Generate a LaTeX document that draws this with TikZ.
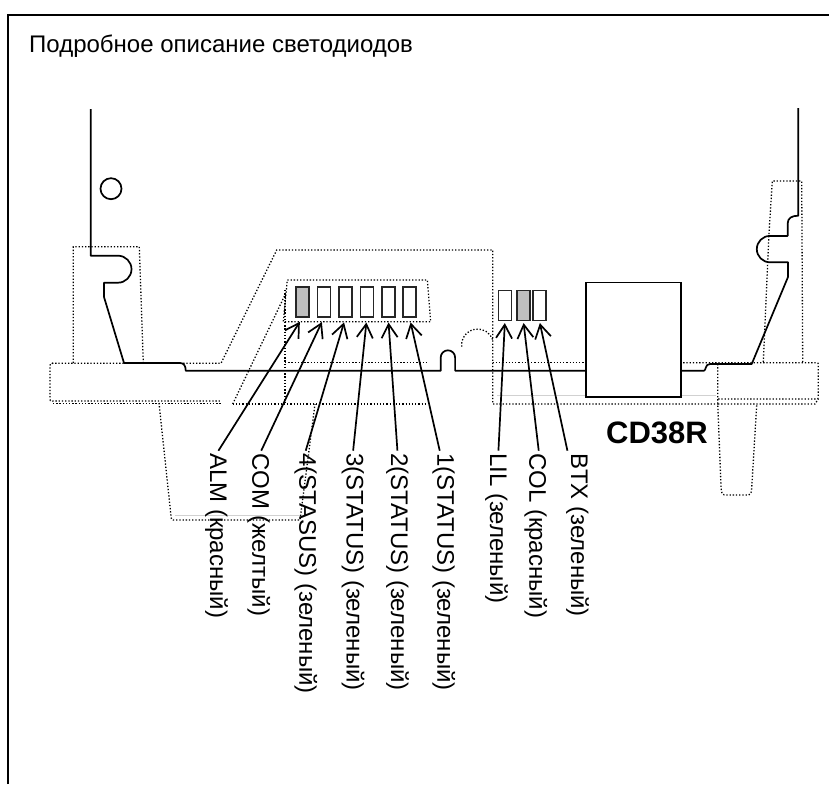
\documentclass[tikz,border=0pt]{standalone}
\usepackage{fontspec}
\setmainfont{Liberation Sans}
\usetikzlibrary{arrows.meta}

\begin{document}
\begin{tikzpicture}[
  x=1pt, y=-1pt,
  outline/.style={draw=black, line width=1.7pt, line join=round},
  hidden/.style={draw=black, line width=1.3pt, dash pattern=on 1.3pt off 1.9pt},
  faint/.style={draw=black!18, line width=1.2pt},
  led/.style={draw=black!85, line width=1.7pt, fill=white, minimum width=13pt,
              inner sep=0pt, minimum height=30pt},
  ledlit/.style={led, fill=black!25},
  lbl/.style={rotate=-90, anchor=base west, inner sep=0pt, outer sep=2.4pt, font=\fontsize{24}{26}\selectfont},
  arr/.style={-{Straight Barb[length=13.5pt,width=16pt]}, line width=1.7pt, shorten >=5pt}
]
\useasboundingbox (0,0) rectangle (829,784);

% ---- frame and heading
\draw[line width=1.7pt] (8,784) -- (8,15) -- (829,15);
\node[anchor=base west, inner sep=0pt, font=\fontsize{24}{26}\selectfont] (title) at (29,52.7) {Подробное описание светодиодов};

% ---- hidden edges behind the panel
\draw[hidden] (73.3,363) -- (73.3,246.7) -- (139.3,246.7) -- (143.3,363);
\draw[hidden] (52,363.3) -- (221,363.3) -- (276.7,250) -- (492.7,250) -- (492.7,404) -- (718,404);
\draw[hidden] (53,363.3) .. controls (50,363.3) .. (50,366) -- (50,398) .. controls (50,401) .. (53,401) -- (221,401);
\draw[hidden] (53,403.3) -- (221,403.3);
\draw[hidden] (232.7,404) -- (285,295);
\draw[hidden] (285,290) -- (285,404);
\draw[hidden] (232.7,404) -- (426.7,404);
\draw[hidden] (285,362.7) -- (426.7,362.7);
\draw[hidden] (287.3,280) -- (427.3,280) -- (430.7,321.7) -- (283.3,321.7) -- cycle;
\draw[hidden] (159,403) -- (171,516) .. controls (171.5,520) .. (175,520) -- (300,520) -- (315,404);
\draw[hidden] (461.7,346.7) arc[start angle=174, end angle=340, radius=16];
\draw[hidden] (492.7,362.7) -- (585,362.7);
\draw[hidden] (680,362.7) -- (815,362.7) .. controls (818.3,362.7) .. (818.3,366) -- (818.3,396) .. controls (818.3,399) .. (815,399) -- (718,399);
\draw[hidden] (718,404) -- (815,404) -- (818.3,399);
\draw[hidden] (717.7,364) -- (717.7,403) -- (721,486) .. controls (721.5,495) .. (728,495) -- (745,495) .. controls (751,495) .. (751.7,488) -- (756.7,405);
\draw[hidden] (763.3,362) -- (769,233) -- (772.3,181) -- (801.7,181) -- (802.7,362);
\draw[faint] (175,515.7) -- (300,515.7);
\draw[faint] (497,395.7) -- (716,395.7);

% ---- panel outline
\draw[outline] (90.7,109) -- (90.7,255.7) -- (118,255.7)
  arc[start angle=-90, end angle=90, radius=13.5] -- (104,282.7) -- (104,297) -- (124,363) -- (180,363)
  .. controls (184,363) and (185.7,366) .. (185.7,370.7) -- (440.7,370.7) -- (440.7,357.5)
  arc[start angle=180, end angle=360, radius=7.2] -- (455.1,370.7) -- (704,370.7)
  .. controls (706,370.7) and (705,364) .. (710,364) -- (751.7,364) -- (788,277) -- (788,262.3) -- (770,262.3)
  arc[start angle=90, end angle=270, radius=13.2] -- (787.7,235.9) -- (787.7,223.3)
  .. controls (787.7,218) and (792,215.7) .. (798.3,215.7) -- (798.3,108);
\draw[outline] (111,188.7) circle[radius=10.5];
\node[draw=black, line width=1.7pt, fill=white, minimum width=95pt, minimum height=114.7pt, inner sep=0pt] (jack) at (633.2,339.7) {};

% ---- leds
\node[ledlit] (ledALM) at (302.5,301.7) {};
\node[led] (ledCOM) at (324,301.7) {};
\node[led] (ledS4) at (345.5,301.7) {};
\node[led] (ledS3) at (366.9,301.7) {};
\node[led] (ledS2) at (388.2,301.7) {};
\node[led] (ledS1) at (409.5,301.7) {};
\node[led] (ledLIL) at (504.9,305.5) {};
\node[ledlit] (ledCOL) at (523.4,305.5) {};
\node[led] (ledBTX) at (539.5,305.5) {};

% ---- labels
\node[lbl] (lALM) at (210,450.7) {ALM (красный)};
\node[lbl] (lCOM) at (252.3,450.7) {COM (желтый)};
\node[lbl] (lS4) at (299.3,450.7) {4(STASUS) (зеленый)};
\node[lbl] (lS3) at (346.7,450.7) {3(STATUS) (зеленый)};
\node[lbl] (lS2) at (391,450.7) {2(STATUS) (зеленый)};
\node[lbl] (lS1) at (437.3,450.7) {1(STATUS) (зеленый)};
\node[lbl] (lLIL) at (490,450.7) {LIL (зеленый)};
\node[lbl] (lCOL) at (529.3,450.7) {COL (красный)};
\node[lbl] (lBTX) at (571,450.7) {BTX (зеленый)};
\node[anchor=base west, inner sep=0pt, font=\bfseries\fontsize{31}{33}\selectfont] (cdname) at (606,443) {CD38R};

% ---- arrows
\draw[arr] ([xshift=2pt]lALM.west) -- (ledALM.south);
\draw[arr] ([xshift=2.5pt]lCOM.west) -- (ledCOM.south);
\draw[arr] (lS4.west) -- (ledS4.south);
\draw[arr] (lS3.west) -- (ledS3.south);
\draw[arr] (lS2.west) -- (ledS2.south);
\draw[arr] ([xshift=-4pt]lS1.west) -- (ledS1.south);
\draw[arr,shorten >=1.7pt] ([xshift=2pt]lLIL.west) -- (ledLIL.south);
\draw[arr,shorten >=1.7pt] ([xshift=3pt]lCOL.west) -- (ledCOL.south);
\draw[arr,shorten >=1.7pt] ([xshift=-10pt]lBTX.west) -- (ledBTX.south);
\end{tikzpicture}
\end{document}
